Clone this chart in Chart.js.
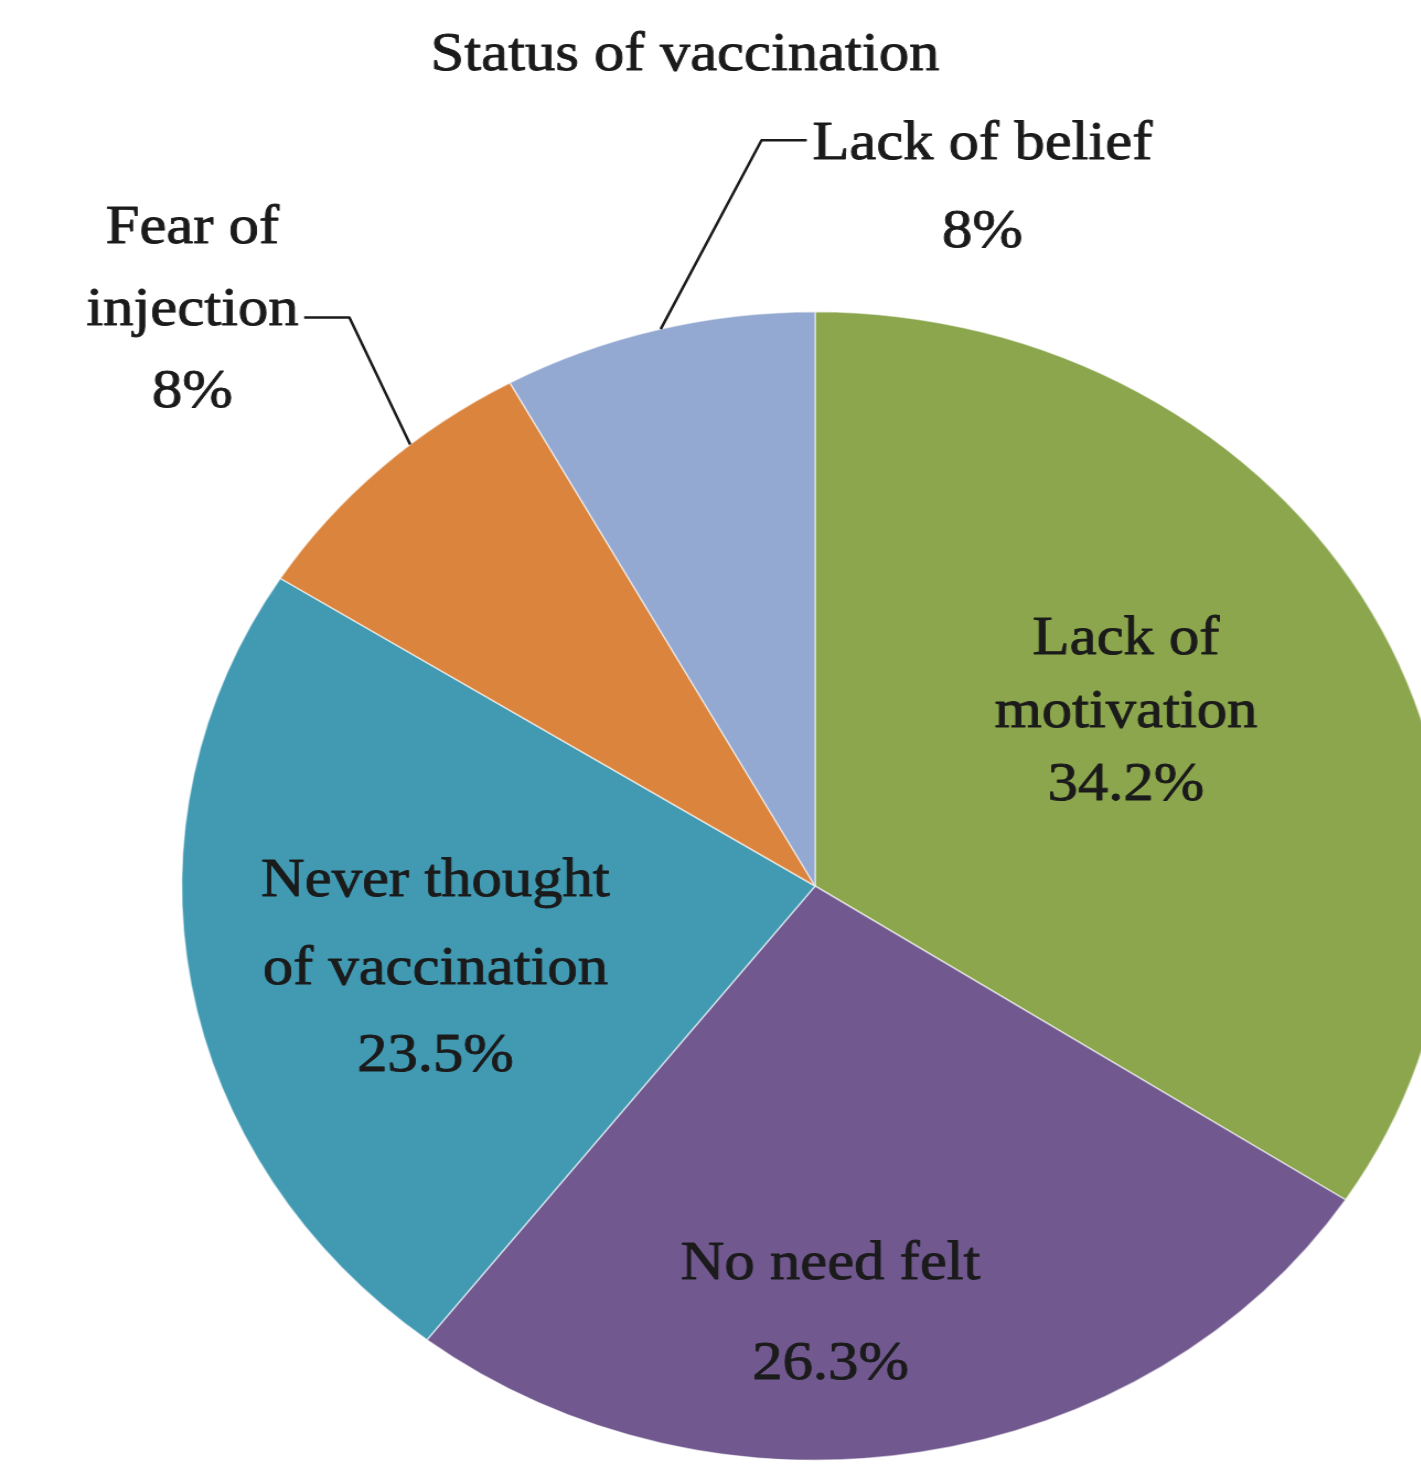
<!DOCTYPE html>
<html lang="en">
<head>
<meta charset="UTF-8">
<meta name="viewport" content="width=device-width, initial-scale=1.0">
<title>Status of vaccination</title>
<script src="https://cdn.jsdelivr.net/npm/chart.js"></script>
<style>
  html, body { margin: 0; padding: 0; background: #fff; overflow: hidden; }
  /* the pie is drawn slightly wider than tall */
  .stage { width: 1314px; height: 1467px; transform: scaleX(1.103); transform-origin: 0 0; }
  canvas { display: block; }
</style>
</head>
<body>
<div class="stage"><canvas id="pie" width="1314" height="1467"></canvas></div>
<script>
const chartTitle = 'Status of vaccination';
const categories = [
  ['Lack of', 'motivation'],
  ['No need felt'],
  ['Never thought', 'of vaccination'],
  ['Fear of', 'injection'],
  ['Lack of belief']
];
const percents = [34.2, 26.3, 23.5, 8, 8];

const sliceColors = ['#8ba64c', '#715990', '#4199b2', '#db843d', '#93a9d1'];
const FONT = '55px "Liberation Serif", "Times New Roman", serif';
const TEXT = '#1b1b1b';

// k = distance from centre along the slice's middle angle (in radii), dx/dy = nudge, lh = line spacing
const labelPlace = [
  { k: 0.578, dx: -10, dy: -19, lh: 73 },
  { k: 0.735, dx: -56, dy: 9, lh: 100 },
  { k: 0.614, dx: 3, dy: 19, lh: 87.5 },
  { k: 1.408, dx: -11, dy: 10, lh: 82, leader: { line: 1, side: 1, dy: 11, at: 0.62 } },
  { k: 1.116, dx: 311, dy: -80, lh: 88, leader: { line: 0, side: -1, dy: -1, at: 0.51 } }
];

// filled text with a hairline stroke so the serif reads a little heavier
function boldText(ctx, t, x, y) {
  ctx.fillText(t, x, y);
  ctx.strokeText(t, x, y);
}

const sliceLabels = {
  id: 'sliceLabels',
  afterDraw(chart) {
    const ctx = chart.ctx;
    const arcs = chart.getDatasetMeta(0).data;
    const capHalf = 18;
    ctx.save();
    ctx.font = FONT;
    ctx.fillStyle = TEXT;
    ctx.strokeStyle = TEXT;
    ctx.textAlign = 'center';
    ctx.textBaseline = 'alphabetic';
    ctx.lineJoin = 'round';

    const c = arcs[0].getProps(['x', 'y'], true);
    ctx.lineWidth = 0.9;
    boldText(ctx, chartTitle, c.x - 118, 52 + capHalf);

    arcs.forEach((arc, i) => {
      const a = arc.getProps(['x', 'y', 'startAngle', 'endAngle', 'outerRadius'], true);
      const p = labelPlace[i];
      const mid = (a.startAngle + a.endAngle) / 2;
      const cx = a.x + Math.cos(mid) * a.outerRadius * p.k + p.dx;
      const cy = a.y + Math.sin(mid) * a.outerRadius * p.k + p.dy;
      const lines = categories[i].concat(percents[i] + '%');
      const top = cy - (lines.length - 1) * p.lh / 2;
      ctx.lineWidth = 0.9;
      lines.forEach((t, j) => boldText(ctx, t, cx, top + j * p.lh + capHalf));

      if (p.leader) {
        const L = p.leader;
        const w = ctx.measureText(lines[L.line]).width;
        const ly = top + L.line * p.lh + L.dy;
        const x0 = cx + L.side * (w / 2 + 5);
        const x1 = x0 + L.side * 41;
        const ang = a.startAngle + (a.endAngle - a.startAngle) * L.at;
        ctx.lineWidth = 2.5;
        ctx.beginPath();
        ctx.moveTo(x0, ly);
        ctx.lineTo(x1, ly);
        ctx.lineTo(a.x + Math.cos(ang) * a.outerRadius, a.y + Math.sin(ang) * a.outerRadius);
        ctx.stroke();
      }
    });
    ctx.restore();
  }
};

new Chart(document.getElementById('pie'), {
  type: 'pie',
  data: {
    labels: categories,
    datasets: [{
      data: percents,
      backgroundColor: sliceColors,
      borderColor: 'rgba(255,255,255,0.55)',
      borderWidth: 1.5,
      hoverOffset: 0
    }]
  },
  options: {
    responsive: false,
    devicePixelRatio: 1,
    animation: false,
    layout: { padding: { left: 164, right: 0, top: 311, bottom: 6 } },
    plugins: {
      legend: { display: false },
      tooltip: { enabled: false }
    }
  },
  plugins: [sliceLabels]
});
</script>
</body>
</html>
